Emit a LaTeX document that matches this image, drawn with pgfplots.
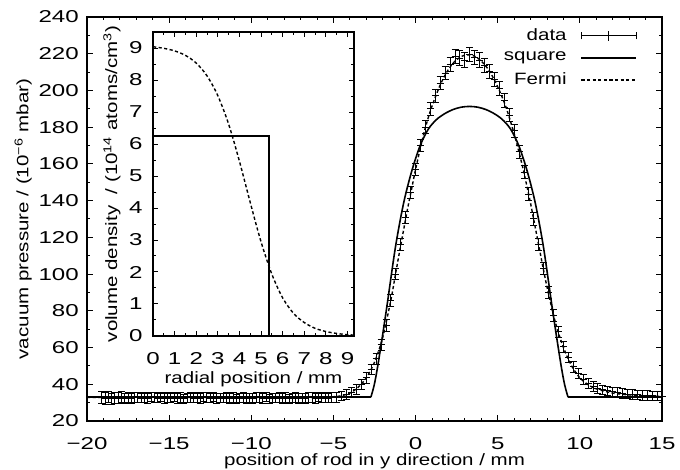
\documentclass[border=0pt]{standalone}
\usepackage{fontspec}
\setmainfont{Liberation Sans}[FakeStretch=1.25]
\newfontfamily\tickfont{Liberation Sans}[FakeStretch=1.4]
\usepackage{pgfplots}
\usepackage{pgfplotstable}
\pgfplotsset{compat=1.18}

\pgfplotstableread{
x y e
-19.1 32.9 3.2
-18.9 32.4 3.2
-18.7 33.1 3.1
-18.5 32.2 3.0
-18.3 32.7 3.0
-18.1 32.5 2.9
-17.9 33.0 2.9
-17.7 32.3 2.8
-17.5 32.8 2.8
-17.3 32.1 2.7
-17.1 32.6 2.7
-16.9 32.9 2.6
-16.7 32.4 2.6
-16.5 32.7 2.6
-16.3 32.3 2.6
-16.1 33.0 2.6
-15.9 32.9 2.6
-15.7 32.4 2.6
-15.5 33.1 2.6
-15.3 32.2 2.6
-15.1 32.7 2.6
-14.9 32.5 2.6
-14.7 33.0 2.6
-14.5 32.3 2.6
-14.3 32.8 2.6
-14.1 32.1 2.6
-13.9 32.6 2.6
-13.7 32.9 2.6
-13.5 32.4 2.6
-13.3 32.7 2.6
-13.1 32.3 2.6
-12.9 33.0 2.6
-12.7 32.9 2.6
-12.5 32.4 2.6
-12.3 33.1 2.6
-12.1 32.2 2.6
-11.9 32.6 2.6
-11.7 32.4 2.6
-11.5 32.9 2.6
-11.3 32.2 2.6
-11.1 32.7 2.6
-10.9 32.0 2.6
-10.7 32.5 2.6
-10.5 32.8 2.6
-10.3 32.3 2.6
-10.1 32.6 2.6
-9.9 32.2 2.6
-9.7 32.9 2.6
-9.5 32.8 2.6
-9.3 32.3 2.6
-9.1 33.0 2.6
-8.9 32.1 2.6
-8.7 32.6 2.6
-8.5 32.4 2.6
-8.3 32.9 2.6
-8.1 32.2 2.6
-7.9 32.7 2.6
-7.7 32.0 2.6
-7.5 32.5 2.6
-7.3 32.8 2.6
-7.1 32.3 2.6
-6.9 32.6 2.6
-6.7 32.2 2.6
-6.5 32.9 2.6
-6.3 32.8 2.6
-6.1 32.3 2.6
-5.9 33.0 2.6
-5.7 32.4 2.6
-5.5 32.8 2.6
-5.3 32.5 2.6
-5.1 32.9 2.6
-4.8 32.9 2.6
-4.5 33.5 2.6
-4.2 34.4 2.7
-3.9 35.6 2.7
-3.6 37.2 2.8
-3.3 40.0 2.8
-3.0 43.5 2.9
-2.7 48.0 2.9
-2.4 54.0 3.0
-2.1 61.5 3.0
-1.8 72.0 3.0
-1.5 85.5 3.2
-1.2 100.0 3.2
-0.9 116.0 3.3
-0.6 131.0 3.3
-0.3 144.5 3.4
0.0 157.0 3.4
0.3 170.0 3.5
0.6 180.0 3.5
0.9 190.0 3.6
1.2 197.0 3.6
1.5 204.0 3.7
1.8 209.5 3.8
2.1 214.0 3.8
2.4 218.5 3.9
2.7 217.5 4.0
3.0 216.5 4.0
3.3 219.5 4.0
3.6 218.0 4.0
3.9 216.5 4.0
4.2 213.5 3.9
4.5 210.5 3.8
4.8 206.0 3.8
5.1 201.0 3.7
5.4 194.5 3.6
5.7 186.5 3.6
6.0 178.0 3.5
6.3 166.5 3.5
6.6 155.5 3.4
6.9 143.5 3.4
7.2 130.0 3.3
7.5 116.0 3.3
7.8 103.0 3.2
8.1 90.0 3.2
8.4 77.5 3.1
8.7 68.5 3.0
9.0 60.5 3.0
9.3 54.5 2.9
9.6 49.5 2.9
9.9 46.0 2.8
10.2 42.5 2.8
10.5 40.5 2.7
10.8 39.0 2.7
11.1 37.8 2.7
11.4 37.0 2.6
11.7 36.4 2.6
12.0 35.8 2.6
12.3 35.4 2.6
12.6 35.0 2.6
12.9 34.7 2.6
13.2 34.5 2.6
13.5 34.2 2.6
13.8 34.0 2.6
14.1 33.9 2.6
14.4 33.7 2.6
14.7 33.6 2.6
15.0 33.5 2.6
}\measdata

\pgfplotstableread{
x y
-2.72 33
-2.52 39.5
-2.32 49
-2.02 66
-1.72 84
-1.22 115
-0.72 139
-0.22 156.5
0.28 170
0.78 179
1.28 184.2
1.78 187.4
2.28 189.6
2.78 190.9
3.28 191.3
3.78 190.9
4.28 189.6
4.78 187.4
5.28 184.2
5.78 179
6.28 170
6.78 156.5
7.28 139
7.78 115
8.28 84
8.58 66
8.88 49
9.08 39.5
9.28 33
}\squarearch

\pgfplotstableread{
x y
-20 33
-2.72 33
}\squareleft

\pgfplotstableread{
x y
9.28 33
15 33
}\squareright

\pgfplotstableread{
x y
-20 32.8
-6 32.9
-5 33.2
-4.5 33.8
-4 35.2
-3.5 38.3
-3 43.5
-2.5 52
-2 65.5
-1.5 86
-1.25 98.5
-1 111
-0.75 123
-0.5 135
-0.25 146
0 157
0.25 167
0.5 176.5
0.75 184.5
1 191.5
1.5 203
2 211.5
2.5 216.8
3 219.2
3.5 219
4 216
4.5 210.5
5 202
5.5 191
6 176.5
6.25 168
6.5 159
6.75 149
7 138.5
7.25 127
7.5 115.5
7.75 104
8 93
8.5 74
9 60
9.5 50
10 43.5
10.5 39.8
11 37.5
12 35.2
13 34.2
14 33.7
15 33.4
}\fermifit

\pgfplotstableread{
x y
0 6.25
5.38 6.25
5.38 0
9.3 0
}\squareprof

\pgfplotstableread{
x y
0 9.04
0.5 8.99
1 8.91
1.5 8.77
2 8.53
2.5 8.13
3 7.51
3.5 6.62
4 5.46
4.5 4.17
5 2.94
5.5 1.93
6 1.19
6.5 0.71
7 0.42
7.5 0.24
8 0.14
8.5 0.08
9 0.04
9.3 0.03
}\fermiprof

\begin{document}
\fontsize{8.2}{9.8}\selectfont
\begin{tikzpicture}[font=\fontsize{8.2}{9.8}\selectfont]
\useasboundingbox (-43.5pt,-24.5pt) rectangle (296.5pt,210.5pt);
\begin{axis}[
  at={(0pt,0pt)}, anchor=south west,
  scale only axis, width=287.5pt, height=202pt,
  xmin=-20, xmax=15, ymin=20, ymax=240,
  xtick={-20,-15,-10,-5,0,5,10,15},
  xticklabels={−20,−15,−10,−5,0,5,10,15},
  minor x tick num=4,
  ytick={20,40,...,240},
  minor y tick num=1,
  tick align=inside,
  major tick length=3pt, minor tick length=1.5pt,
  axis line style={line width=0.7pt},
  every tick/.style={line width=0.5pt, black},
  /pgf/number format/assume math mode=true,
  tick label style={font=\tickfont\fontsize{8.6}{10}\selectfont},
  yticklabel style={xshift=-1.2pt},
  xticklabel style={yshift=-5.5pt},
  xlabel={position of rod in y direction / mm},
  ylabel={vacuum pressure / (10\textsuperscript{−6} mbar)},
  xlabel style={at={(axis description cs:0.5,-0.099)}, anchor=center},
  ylabel style={at={(axis description cs:-0.111,0.5)}, anchor=center},
  legend style={at={(axis description cs:0.968,0.992)}, anchor=north east,
    draw=none, fill=none, legend plot pos=right,
    cells={anchor=east},
    row sep=0.6pt, column sep=5pt, font=\fontsize{8.2}{9.8}\selectfont},
  legend cell align=right,
]
\addplot[black, line width=0.5pt, mark=+, mark size=1.75pt, only marks,
  error bars/.cd, y dir=both, y explicit,
  error bar style={line width=0.5pt, black},
  error mark options={rotate=90, mark size=1.75pt, line width=0.5pt, black},
  /pgfplots/legend image code/.code={
    \draw[line width=0.5pt] (0pt,0pt) -- (27.5pt,0pt);
    \draw[line width=0.5pt] (0pt,-1.75pt) -- (0pt,1.75pt);
    \draw[line width=0.5pt] (27.5pt,-1.75pt) -- (27.5pt,1.75pt);
    \draw[line width=0.5pt] (13.75pt,-2.5pt) -- (13.75pt,2.5pt);},
  ]
  table[x=x, y=y, y error=e] {\measdata};
\addlegendentry{data}
\addplot[black, line width=0.8pt, no marks, smooth,
  legend image code/.code={\draw[black, line width=0.8pt] (0pt,0pt) -- (27.5pt,0pt);}]
  table[x=x, y=y] {\squarearch};
\addlegendentry{square}
\addplot[black, line width=0.7pt, no marks, smooth, dash pattern=on 1.6pt off 1.2pt,
  legend image code/.code={\draw[black, line width=0.7pt, dash pattern=on 1.6pt off 1.2pt] (0pt,0pt) -- (27.5pt,0pt);}]
  table[x=x, y=y] {\fermifit};
\addlegendentry{Fermi}
\addplot[black, line width=0.8pt, no marks, forget plot] table[x=x, y=y] {\squareleft};
\addplot[black, line width=0.8pt, no marks, forget plot] table[x=x, y=y] {\squareright};
\end{axis}

\begin{axis}[
  at={(33pt,42.5pt)}, anchor=south west,
  scale only axis, width=100.5pt, height=152pt,
  axis background/.style={fill=white},
  xmin=0, xmax=9.3, ymin=0, ymax=9.5,
  xtick={0,1,...,9}, ytick={0,1,...,9},
  minor tick num=1,
  tick align=inside,
  major tick length=2.5pt, minor tick length=1.5pt,
  axis line style={line width=0.7pt},
  every tick/.style={line width=0.5pt, black},
  /pgf/number format/assume math mode=true,
  tick label style={font=\tickfont\fontsize{8.6}{10}\selectfont},
  yticklabel style={xshift=-2.3pt},
  xticklabel style={yshift=-5.2pt},
  xlabel={radial position / mm},
  ylabel={volume density \ / (10\textsuperscript{14} atoms/cm\textsuperscript{3})},
  xlabel style={at={(axis description cs:0.5,-0.143)}, anchor=center},
  ylabel style={at={(axis description cs:-0.204,0.5)}, anchor=center},
]
\addplot[black, line width=0.8pt, no marks] table[x=x, y=y] {\squareprof};
\addplot[black, line width=0.7pt, no marks, smooth, dash pattern=on 1.6pt off 1.2pt] table[x=x, y=y] {\fermiprof};
\end{axis}
\end{tikzpicture}
\end{document}
